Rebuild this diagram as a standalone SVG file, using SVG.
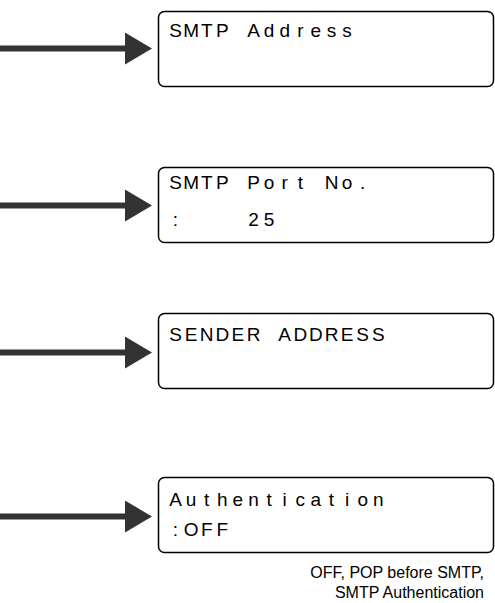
<svg xmlns="http://www.w3.org/2000/svg" width="495" height="603" viewBox="0 0 495 603">
<style>
.box{fill:#fff;stroke:#000;stroke-width:1.5}
.lcd{font-family:"Liberation Sans",Arial,sans-serif;font-size:19px;fill:#000;text-anchor:middle;white-space:pre}
.cap{font-family:"Liberation Sans",Arial,sans-serif;font-size:16px;fill:#000;text-anchor:end}
.arr{stroke:#333;stroke-width:6;fill:none}
</style>
<defs>
<marker id="head" markerUnits="userSpaceOnUse" markerWidth="27" markerHeight="32" refX="0" refY="16" orient="auto" viewBox="0 0 27 32">
<path d="M0,0 L27,16 L0,32 Z" fill="#333"/>
</marker>
</defs>
<rect width="495" height="603" fill="#fff"/>
<g id="connectors">
<path class="arr" d="M0,48.5 H125" marker-end="url(#head)"/>
<path class="arr" d="M0,205.5 H125" marker-end="url(#head)"/>
<path class="arr" d="M0,352.5 H125" marker-end="url(#head)"/>
<path class="arr" d="M0,516.5 H125" marker-end="url(#head)"/>
</g>
<g id="smtp-address">
<rect class="box" x="158.5" y="11.5" width="335" height="75" rx="6"/>
<text class="lcd" xml:space="preserve" y="37" x="175.5 191.1 206.7 222.3 237.9 253.5 269.1 284.7 300.3 315.9 331.5 347.1">SMTP Address</text>
</g>
<g id="smtp-port">
<rect class="box" x="158.5" y="167.5" width="335" height="75" rx="6"/>
<text class="lcd" xml:space="preserve" y="189" x="175.5 191.1 206.7 222.3 237.9 253.5 269.1 284.7 300.3 315.9 331.5 347.1 362.7">SMTP Port No.</text>
<text class="lcd" xml:space="preserve" y="226" x="175.5 191.1 206.7 222.3 237.9 253.5 269.1">:    25</text>
</g>
<g id="sender-address">
<rect class="box" x="158.5" y="313.5" width="335" height="75" rx="6"/>
<text class="lcd" xml:space="preserve" y="341" x="175.5 191.1 206.7 222.3 237.9 253.5 269.1 284.7 300.3 315.9 331.5 347.1 362.7 378.3">SENDER ADDRESS</text>
</g>
<g id="authentication">
<rect class="box" x="158.5" y="477.5" width="335" height="75" rx="6"/>
<text class="lcd" xml:space="preserve" y="506" x="175.5 191.1 206.7 222.3 237.9 253.5 269.1 284.7 300.3 315.9 331.5 347.1 362.7 378.3">Authentication</text>
<text class="lcd" xml:space="preserve" y="536" x="175.5 191.1 206.7 222.3">:OFF</text>
<text class="cap" x="484" y="578">OFF, POP before SMTP,</text>
<text class="cap" x="484" y="598">SMTP Authentication</text>
</g>
</svg>
